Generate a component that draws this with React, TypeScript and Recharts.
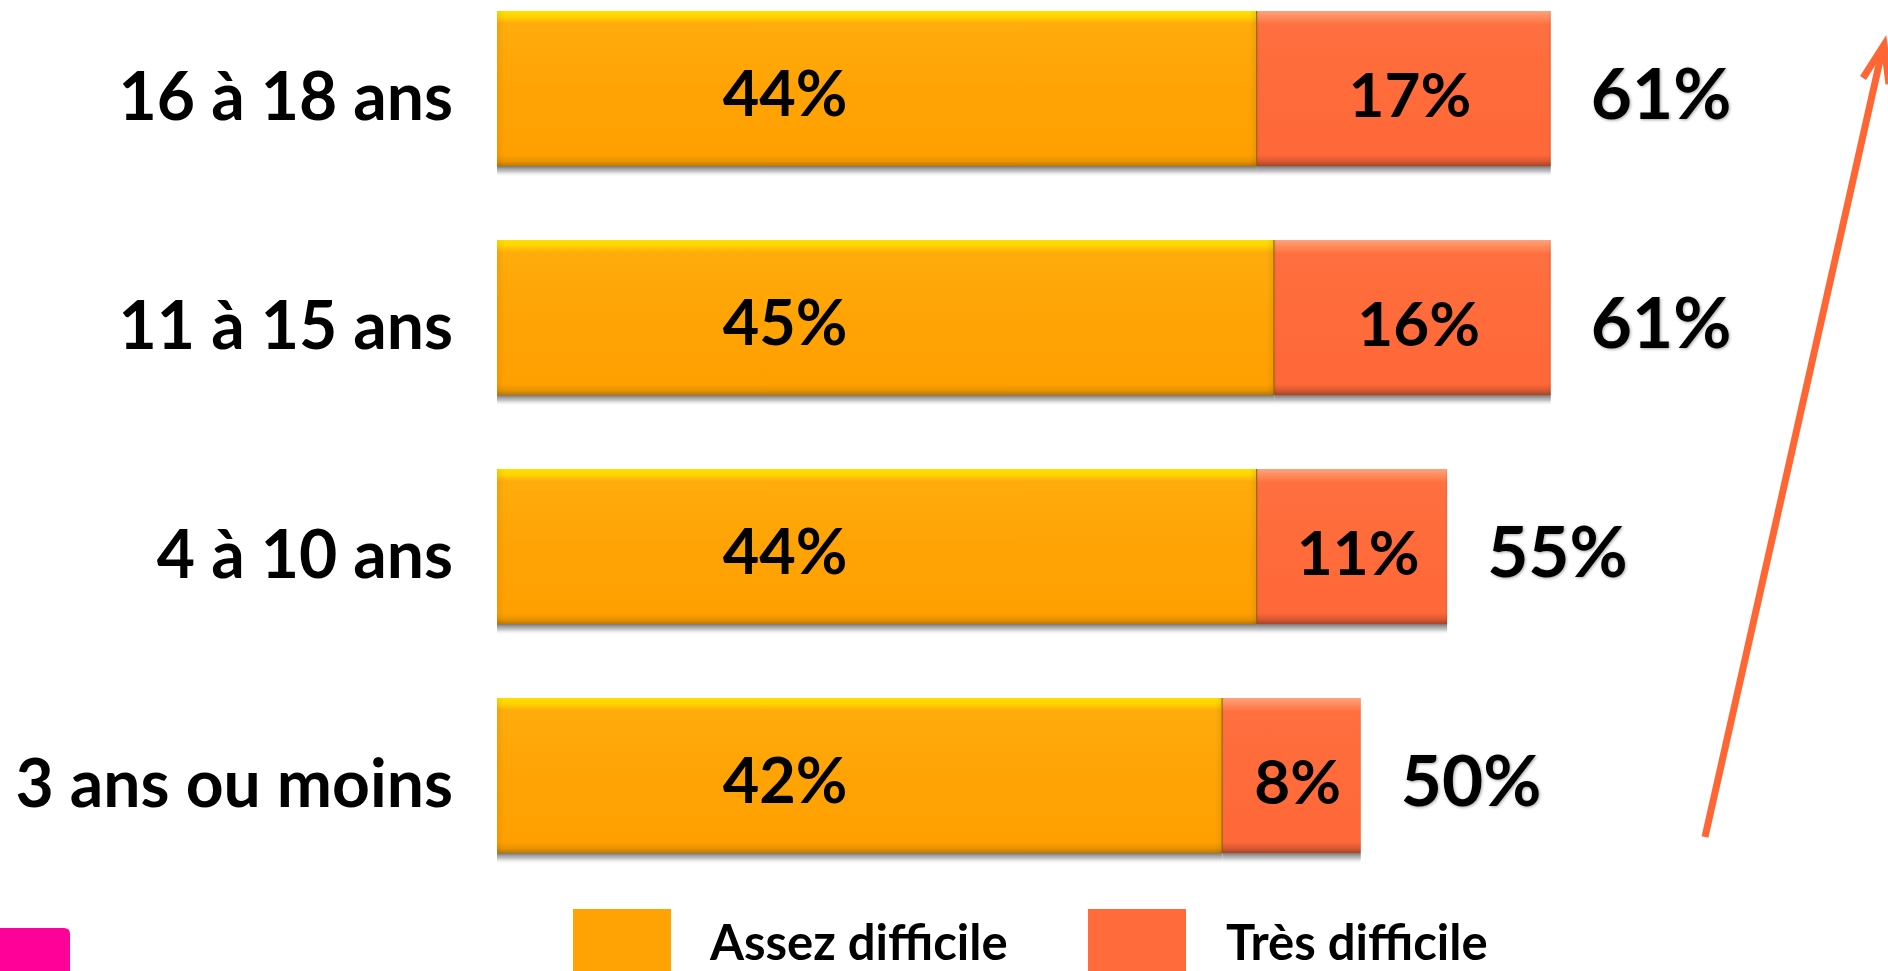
import React from 'react';
import { BarChart, Bar, XAxis, YAxis, LabelList, Legend, Customized } from 'recharts';

const categories = ['16 à 18 ans', '11 à 15 ans', '4 à 10 ans', '3 ans ou moins'];
const assezDifficile = [44, 45, 44, 42];
const tresDifficile = [17, 16, 11, 8];
const totals = [61, 61, 55, 50];
const seriesNames = ['Assez difficile', 'Très difficile'];

const data = categories.map((c, i) => ({
  name: c,
  assez: assezDifficile[i],
  tres: tresDifficile[i],
  total: totals[i],
}));

const W = 1888;
const H = 971;
const ORANGE = '#FFA305';
const RED = '#FF6B3B';
const FONT = 'Lato, "Open Sans", sans-serif';

const CategoryTick = (props: any) => {
  const { x, y, payload } = props;
  return (
    <text x={x} y={y} dy={31} textAnchor="end" fontFamily={FONT} fontWeight={700} fontSize={66} fill="#000">
      {payload.value}
    </text>
  );
};

const makeShape = (gradId: string, edge: boolean) => (props: any) => {
  const { x, y, width, height } = props;
  if (width == null || height == null) return null;
  return (
    <g>
      <rect x={x} y={y + height} width={width} height={11} fill="url(#shadowGrad)" />
      <rect x={x} y={y} width={width} height={height} fill={`url(#${gradId})`} />
      <rect x={x} y={y} width={width} height={height} fill="url(#sideGrad)" />
      {edge && (
        <line x1={x + width} x2={x + width} y1={y} y2={y + height} stroke="#8A6A00" strokeWidth={2} />
      )}
    </g>
  );
};

const AssezLabel = (props: any) => {
  const { x, y, height, value } = props;
  return (
    <text x={Number(x) + 288} y={Number(y) + Number(height) / 2} dy={27} textAnchor="middle"
      fontFamily={FONT} fontWeight={700} fontSize={63} fill="#000">
      {value}%
    </text>
  );
};

const TresLabel = (props: any) => {
  const { x, y, width, height, value } = props;
  return (
    <text x={Number(x) + Number(width) / 2 + 6} y={Number(y) + Number(height) / 2} dy={28} textAnchor="middle"
      fontFamily={FONT} fontWeight={700} fontSize={62} fill="#000">
      {value}%
    </text>
  );
};

const TotalLabel = (props: any) => {
  const { x, y, width, height, value } = props;
  return (
    <text x={Number(x) + Number(width) + 40} y={Number(y) + Number(height) / 2} dy={30} textAnchor="start"
      fontFamily={FONT} fontWeight={700} fontSize={71} fill="#000"
      style={{ filter: 'drop-shadow(1px 1px 1.5px rgba(0,0,0,0.35))' }}>
      {value}%
    </text>
  );
};

const LegendContent = (props: any) => {
  const payload = (props.payload || []) as any[];
  const boxes = [573, 1088];
  const texts = [710, 1226];
  return (
    <div style={{ position: 'relative', width: 0, height: 0 }}>
      <svg width={W} height={H} style={{ position: 'absolute', left: 0, top: 0, overflow: 'visible', pointerEvents: 'none' }}>
        {payload.map((p: any, i: number) => (
          <g key={i}>
            <rect x={boxes[i]} y={909} width={98} height={98} fill={p.color} />
            <text x={texts[i]} y={960} fontFamily={FONT} fontWeight={700} fontSize={49} fill="#000">
              {p.value}
            </text>
          </g>
        ))}
      </svg>
    </div>
  );
};

const Decorations = () => (
  <g>
    <path d="M0 928 L64 928 Q70 928 70 934 L70 971 L0 971 Z" fill="#FF0099" />
    <line x1={1705} y1={837} x2={1883} y2={47} stroke="#FF6633" strokeWidth={7} strokeLinecap="butt" />
    <polyline points="1863,78 1884,45 1889,84" fill="none" stroke="#FF6633" strokeWidth={7} strokeLinejoin="miter" />
  </g>
);

export default function App() {
  return (
    <div style={{ position: 'absolute', left: 0, top: 0, width: W, height: H, background: '#fff', overflow: 'hidden' }}>
      <BarChart
        width={W}
        height={H}
        data={data}
        layout="vertical"
        margin={{ top: -26, right: 9, bottom: 81, left: 0 }}
        barSize={155}
      >
        <defs>
          <linearGradient id="orangeGrad" x1="0" y1="0" x2="0" y2="1">
            <stop offset="0" stopColor="#FFE000" />
            <stop offset="0.035" stopColor="#FFD400" />
            <stop offset="0.08" stopColor="#FFAC0C" />
            <stop offset="0.5" stopColor={ORANGE} />
            <stop offset="0.93" stopColor="#FFA000" />
            <stop offset="0.97" stopColor="#E89300" />
            <stop offset="1" stopColor="#C07800" />
          </linearGradient>
          <linearGradient id="redGrad" x1="0" y1="0" x2="0" y2="1">
            <stop offset="0" stopColor="#FFA27C" />
            <stop offset="0.04" stopColor="#FF8C5C" />
            <stop offset="0.09" stopColor="#FF6F3F" />
            <stop offset="0.5" stopColor={RED} />
            <stop offset="0.93" stopColor="#FF6838" />
            <stop offset="0.97" stopColor="#D85832" />
            <stop offset="1" stopColor="#A84426" />
          </linearGradient>
          <linearGradient id="sideGrad" x1="0" y1="0" x2="1" y2="0">
            <stop offset="0" stopColor="#000" stopOpacity="0.06" />
            <stop offset="0.01" stopColor="#000" stopOpacity="0" />
            <stop offset="0.99" stopColor="#000" stopOpacity="0" />
            <stop offset="1" stopColor="#000" stopOpacity="0.08" />
          </linearGradient>
          <linearGradient id="shadowGrad" x1="0" y1="0" x2="0" y2="1">
            <stop offset="0" stopColor="#6E6E6E" stopOpacity="0.95" />
            <stop offset="0.5" stopColor="#A8A8A8" stopOpacity="0.65" />
            <stop offset="1" stopColor="#FFFFFF" stopOpacity="0" />
          </linearGradient>
        </defs>
        <XAxis type="number" domain={[0, 80]} hide />
        <YAxis
          type="category"
          dataKey="name"
          width={497}
          axisLine={false}
          tickLine={false}
          tickSize={0}
          tickMargin={44}
          tick={<CategoryTick />}
          interval={0}
        />
        <Legend content={<LegendContent />} wrapperStyle={{ left: 0, top: 0, width: 0, height: 0 }} />
        <Bar dataKey="assez" name={seriesNames[0]} stackId="a" fill={ORANGE} isAnimationActive={false}
          shape={makeShape('orangeGrad', true)}>
          <LabelList dataKey="assez" content={<AssezLabel />} />
        </Bar>
        <Bar dataKey="tres" name={seriesNames[1]} stackId="a" fill={RED} isAnimationActive={false}
          shape={makeShape('redGrad', false)}>
          <LabelList dataKey="tres" content={<TresLabel />} />
          <LabelList dataKey="total" content={<TotalLabel />} />
        </Bar>
        <Customized component={<Decorations />} />
      </BarChart>
    </div>
  );
}
